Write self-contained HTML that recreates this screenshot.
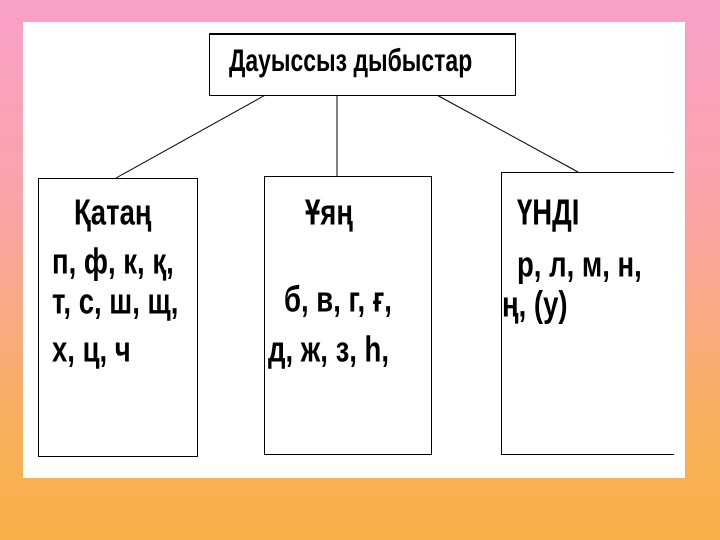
<!DOCTYPE html>
<html><head><meta charset="utf-8"><style>
html,body{margin:0;padding:0}
body{width:720px;height:540px;position:relative;overflow:hidden;background:linear-gradient(#f9a0c9 0%,#f9a5a6 40%,#f8b05a 80%,#f7b048 100%);font-family:"Liberation Sans","DejaVu Sans",sans-serif}
.panel{position:absolute;left:23px;top:22px;width:662px;height:456px;background:#fff}
.box{position:absolute;border:1.5px solid #000;background:#fff}
.t{position:absolute;font-weight:bold;font-size:32px;line-height:1;white-space:nowrap;transform:scale(0.86,1.12);transform-origin:0 50%;color:#000}
svg{position:absolute;left:0;top:0}
</style></head><body>
<div class="panel"></div>
<svg width="720" height="540"><g stroke="#000" stroke-width="1">
<line x1="269" y1="93" x2="116" y2="178"/>
<line x1="337" y1="94" x2="337" y2="176"/>
<line x1="435" y1="94" x2="578" y2="172"/>
</g></svg>
<div class="box" style="left:209px;top:33px;width:305px;height:60px;border-top-width:2px"></div>
<div class="box" style="left:38px;top:178px;width:158px;height:277px"></div>
<div class="box" style="left:264px;top:176px;width:166px;height:277px"></div>
<div class="box" style="left:501px;top:172px;width:172px;height:281px;border-right:none"></div>
<div class="t" style="left:229px;top:47px;font-size:28px;transform:scale(0.82,1.12)">Дауыссыз дыбыстар</div>
<div class="t" style="left:74px;top:196px">Қатаң</div>
<div class="t" style="left:52px;top:245px">п, ф, к, қ,</div>
<div class="t" style="left:52px;top:285px">т, с, ш, щ,</div>
<div class="t" style="left:52px;top:333px">х, ц, ч</div>
<div class="t" style="left:305px;top:196px">Ұяң</div>
<div class="t" style="left:284px;top:283px">б, в, г, ғ,</div>
<div class="t" style="left:268px;top:333px">д, ж, з, һ,</div>
<div class="t" style="left:517px;top:196px">ҮНДІ</div>
<div class="t" style="left:517px;top:248px">р, л, м,  н,</div>
<div class="t" style="left:502px;top:288px">ң, (у)</div>
</body></html>
